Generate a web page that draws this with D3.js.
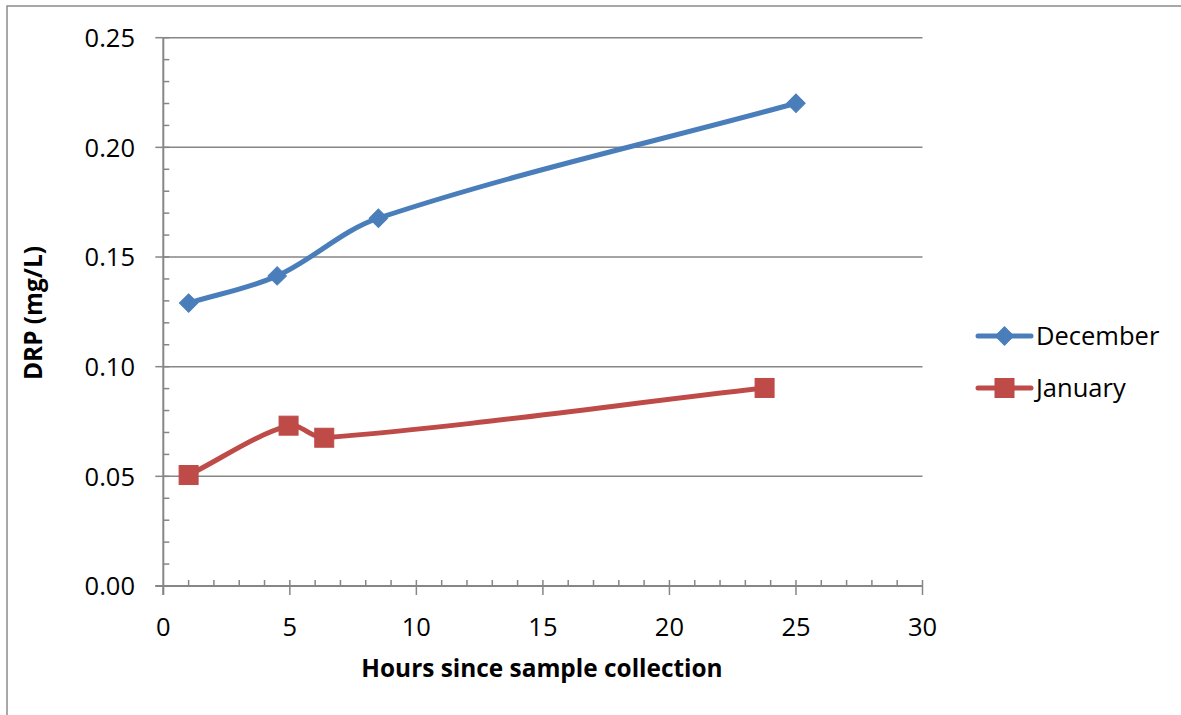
<!DOCTYPE html>
<html>
<head>
<meta charset="utf-8">
<script src="https://cdn.jsdelivr.net/npm/d3@7"></script>
<style>
  html, body { margin: 0; padding: 0; background: #fff; }
  svg { display: block; }
  text { font-family: "Open Sans", sans-serif; fill: #000; }
</style>
</head>
<body>
<svg id="chart" width="1181" height="715"></svg>
<script>
// ---- Data ----
const decHours = [1, 4.5, 8.5, 25];
const decDRP   = [0.129, 0.1414, 0.1677, 0.2201];
const janHours = [1, 4.95, 6.36, 23.76];
const janDRP   = [0.0506, 0.0731, 0.0676, 0.0903];
const seriesNames = ["December", "January"];
const xTickValues = [0, 5, 10, 15, 20, 25, 30];
const yTickValues = [0.00, 0.05, 0.10, 0.15, 0.20, 0.25];
const xTitle = "Hours since sample collection";
const yTitle = "DRP (mg/L)";

const series = [
  { name: seriesNames[0], pts: decHours.map((h, i) => [h, decDRP[i]]), color: "#4A7EBB", marker: "diamond" },
  { name: seriesNames[1], pts: janHours.map((h, i) => [h, janDRP[i]]), color: "#BE4B48", marker: "square" }
];

const svg = d3.select("#chart");
const grey = "#868686";

// outer chart border
svg.append("rect").attr("x", 7).attr("y", 6).attr("width", 1200).attr("height", 800)
  .attr("fill", "none").attr("stroke", "#8c8c8c").attr("stroke-width", 1.5);

const x = d3.scaleLinear().domain([0, 30]).range([163.3, 922.5]);
const y = d3.scaleLinear().domain([0, 0.25]).range([586, 37.7]);

// gridlines
svg.append("g").selectAll("line").data(yTickValues.filter(v => v > 0)).join("line")
  .attr("x1", x(0)).attr("x2", x(30)).attr("y1", d => y(d)).attr("y2", d => y(d))
  .attr("stroke", grey).attr("stroke-width", 1.5);

// y minor ticks (inside)
svg.append("g").selectAll("line").data(d3.range(1, 26).map(i => i / 100)).join("line")
  .attr("x1", x(0)).attr("x2", x(0) + 6).attr("y1", d => y(d)).attr("y2", d => y(d))
  .attr("stroke", grey).attr("stroke-width", 1.5);
// y major ticks (outside)
svg.append("g").selectAll("line").data(yTickValues).join("line")
  .attr("x1", x(0) - 8).attr("x2", x(0)).attr("y1", d => y(d)).attr("y2", d => y(d))
  .attr("stroke", grey).attr("stroke-width", 1.5);
// x minor ticks (inside)
svg.append("g").selectAll("line").data(d3.range(1, 31)).join("line")
  .attr("x1", d => x(d)).attr("x2", d => x(d)).attr("y1", y(0)).attr("y2", y(0) - 6)
  .attr("stroke", grey).attr("stroke-width", 1.5);
// x major ticks (outside)
svg.append("g").selectAll("line").data(xTickValues).join("line")
  .attr("x1", d => x(d)).attr("x2", d => x(d)).attr("y1", y(0)).attr("y2", y(0) + 9)
  .attr("stroke", grey).attr("stroke-width", 1.5);

// axis lines
svg.append("line").attr("x1", x(0)).attr("x2", x(0)).attr("y1", y(0.25)).attr("y2", y(0) + 9)
  .attr("stroke", grey).attr("stroke-width", 2);
svg.append("line").attr("x1", x(0) - 8).attr("x2", x(30)).attr("y1", y(0)).attr("y2", y(0))
  .attr("stroke", grey).attr("stroke-width", 2);

// tick labels
svg.append("g").selectAll("text").data(yTickValues).join("text")
  .attr("x", 135).attr("y", d => y(d)).attr("dy", "0.36em")
  .attr("text-anchor", "end").attr("font-size", 25.5)
  .text(d => d3.format(".2f")(d));
svg.append("g").selectAll("text").data(xTickValues).join("text")
  .attr("x", d => x(d)).attr("y", 627).attr("dy", "0.36em")
  .attr("text-anchor", "middle").attr("font-size", 25.5)
  .text(d => d);

// axis titles
svg.append("text").attr("x", 542).attr("y", 668).attr("dy", "0.36em")
  .attr("text-anchor", "middle").attr("font-size", 24.4).attr("font-weight", "bold")
  .text(xTitle);
svg.append("text").attr("transform", "translate(33,313) rotate(-90)").attr("dy", "0.36em")
  .attr("text-anchor", "middle").attr("font-size", 24.4).attr("font-weight", "bold")
  .text(yTitle);

// Excel-like smoothed line: Bezier with chord-length-weighted Catmull-Rom tangents
function smoothPath(pts) {
  const P = pts.map(d => [x(d[0]), y(d[1])]);
  const n = P.length;
  const dist = (a, b) => Math.hypot(b[0] - a[0], b[1] - a[1]);
  const path = d3.path();
  path.moveTo(P[0][0], P[0][1]);
  const ctrl = P.map((p, i) => {
    const prev = P[Math.max(i - 1, 0)], next = P[Math.min(i + 1, n - 1)];
    const dp = dist(prev, p), dn = dist(p, next), s = dp + dn || 1;
    const T = [next[0] - prev[0], next[1] - prev[1]];
    return {
      before: [p[0] - T[0] * dp / s / 3, p[1] - T[1] * dp / s / 3],
      after:  [p[0] + T[0] * dn / s / 3, p[1] + T[1] * dn / s / 3]
    };
  });
  for (let i = 0; i < n - 1; i++) {
    const c1 = ctrl[i].after, c2 = ctrl[i + 1].before;
    path.bezierCurveTo(c1[0], c1[1], c2[0], c2[1], P[i + 1][0], P[i + 1][1]);
  }
  return path.toString();
}

function drawMarker(g, type, cx, cy, color) {
  if (type === "diamond") {
    g.append("path").attr("d", d3.symbol(d3.symbolSquare, 170)())
      .attr("transform", `translate(${cx},${cy}) rotate(45)`).attr("fill", color).attr("stroke", color).attr("stroke-width", 1);
  } else {
    g.append("rect").attr("x", cx - 9.5).attr("y", cy - 9.5).attr("width", 19).attr("height", 19)
      .attr("fill", color).attr("stroke", color).attr("stroke-width", 1);
  }
}
series.forEach(s => {
  svg.append("path").attr("d", smoothPath(s.pts))
    .attr("fill", "none").attr("stroke", s.color).attr("stroke-width", 5).attr("stroke-linejoin", "round").attr("stroke-linecap", "round");
  const g = svg.append("g");
  s.pts.forEach(p => drawMarker(g, s.marker, x(p[0]), y(p[1]), s.color));
});

// legend
const legY = [336, 388];
series.forEach((s, i) => {
  const g = svg.append("g");
  g.append("line").attr("x1", 978).attr("x2", 1031).attr("y1", legY[i]).attr("y2", legY[i])
    .attr("stroke", s.color).attr("stroke-width", 5).attr("stroke-linecap", "round");
  drawMarker(g, s.marker, 1004.5, legY[i], s.color);
  g.append("text").attr("x", 1036).attr("y", legY[i]).attr("dy", "0.36em")
    .attr("font-size", 25.5).text(s.name);
});
</script>
</body>
</html>
